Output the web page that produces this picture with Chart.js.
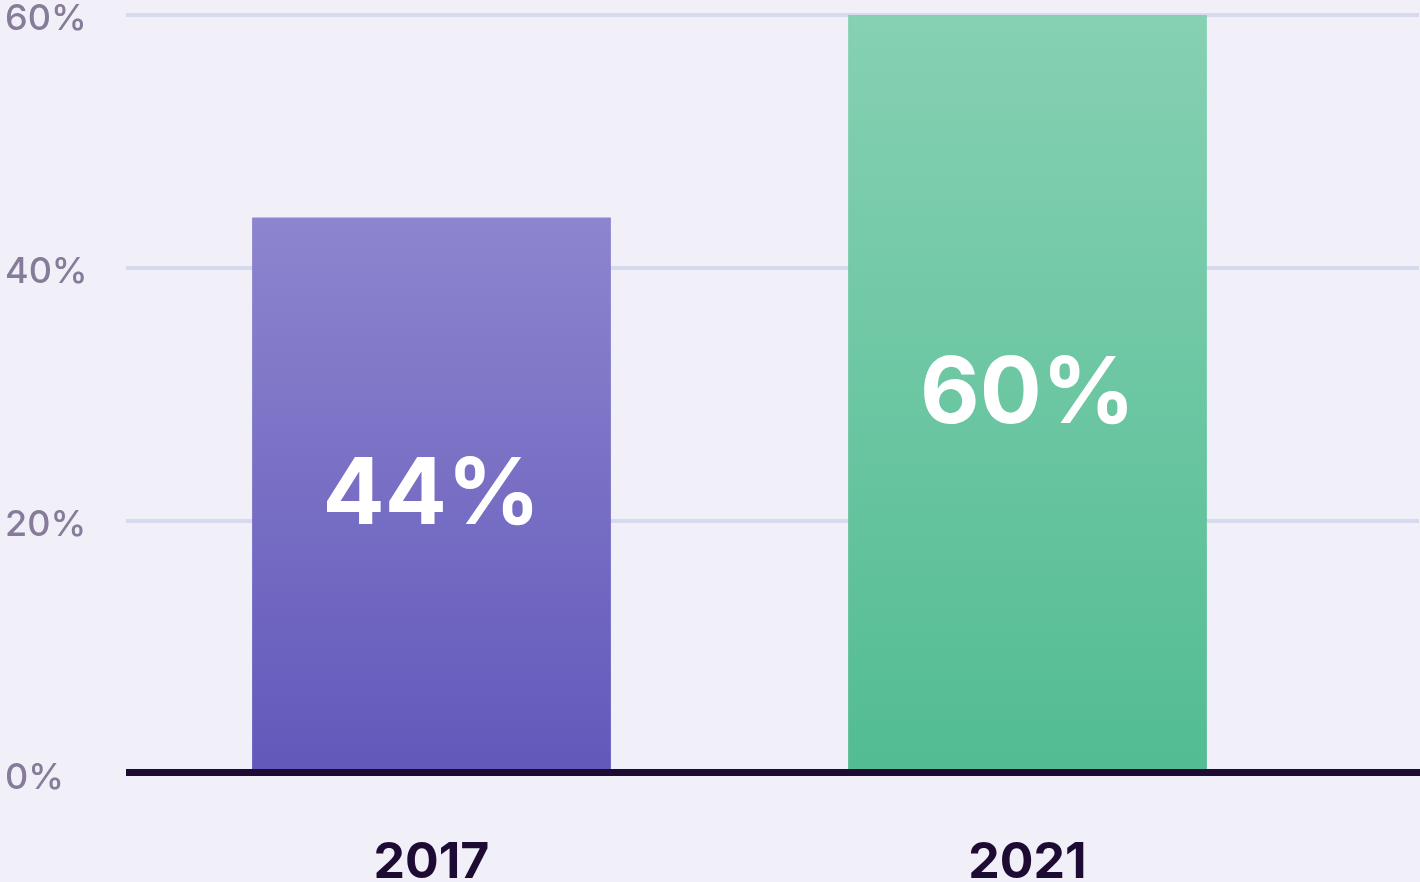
<!DOCTYPE html>
<html>
<head>
<meta charset="utf-8">
<script src="https://cdn.jsdelivr.net/npm/chart.js@4.4.1/dist/chart.umd.min.js"></script>
<style>
  html, body { margin: 0; padding: 0; background: #f1f0f9; }
  #wrap { width: 1420px; height: 882px; position: relative; }
</style>
</head>
<body>
<div id="wrap"><canvas id="c"></canvas></div>
<script>
const categories = ['2017', '2021'];
const values = [44, 60];
const yTicks = [0, 20, 40, 60];
const gradientTops = ['#8d85ce', '#86d1b3'];
const gradientBottoms = ['#6258bb', '#52bc92'];

const gridColor = '#d6daef';
const axisColor = '#1e0b33';
const tickColor = '#867b99';

const barGradient = (ctx) => {
  const chart = ctx.chart;
  const y = chart.scales.y;
  if (!chart.chartArea || !y) return gradientBottoms[ctx.dataIndex];
  const top = y.getPixelForValue(values[ctx.dataIndex]);
  const base = y.getPixelForValue(0);
  const g = chart.ctx.createLinearGradient(0, top, 0, base);
  g.addColorStop(0, gradientTops[ctx.dataIndex]);
  g.addColorStop(1, gradientBottoms[ctx.dataIndex]);
  return g;
};

const gridPlugin = {
  id: 'fullGrid',
  beforeDatasetsDraw(chart) {
    const { ctx, scales: { y }, chartArea } = chart;
    ctx.save();
    ctx.strokeStyle = gridColor;
    ctx.lineWidth = 4;
    yTicks.forEach(v => {
      if (v === 0) return;
      const py = y.getPixelForValue(v);
      ctx.beginPath();
      ctx.moveTo(chartArea.left - 7.5, py);
      ctx.lineTo(chart.width - 1, py);
      ctx.stroke();
    });
    ctx.restore();
  },
  afterDatasetsDraw(chart) {
    const { ctx, scales: { y }, chartArea } = chart;
    ctx.save();
    ctx.strokeStyle = axisColor;
    ctx.lineWidth = 7;
    const py = y.getPixelForValue(0) - 1.5;
    ctx.beginPath();
    ctx.moveTo(chartArea.left - 7.5, py);
    ctx.lineTo(chart.width, py);
    ctx.stroke();

    const meta = chart.getDatasetMeta(0);
    ctx.fillStyle = '#ffffff';
    ctx.font = 'bold 92px Inter';
    ctx.textAlign = 'center';
    ctx.textBaseline = 'middle';
    meta.data.forEach((el, i) => {
      ctx.fillText(values[i] + '%', el.x, (el.y + el.base) / 2 + 1);
    });
    ctx.restore();
  }
};

new Chart(document.getElementById('c'), {
  type: 'bar',
  data: {
    labels: categories,
    datasets: [{
      data: values,
      backgroundColor: barGradient,
      borderWidth: 0,
      barPercentage: 0.602,
      categoryPercentage: 1
    }]
  },
  options: {
    responsive: true,
    maintainAspectRatio: false,
    animation: false,
    layout: { padding: { left: 5, right: 94.5, top: 15, bottom: 0 } },
    plugins: { legend: { display: false }, tooltip: { enabled: false } },
    scales: {
      x: {
        grid: { display: false, drawTicks: false },
        border: { display: false },
        ticks: {
          color: axisColor,
          font: { family: 'Inter', weight: 'bold', size: 50 },
          padding: 59
        },
        afterFit(s) { s.height = 108; }
      },
      y: {
        min: 0, max: 60,
        grid: { display: false, drawTicks: false },
        border: { display: false },
        afterBuildTicks(s) { s.ticks = yTicks.map(v => ({ value: v })); },
        ticks: {
          color: tickColor,
          crossAlign: 'far',
          font: { family: 'Inter', weight: '500', size: 36 },
          callback: v => v + '%'
        },
        afterFit(s) {
          s.width = 128.5; s.paddingTop = 0; s.paddingBottom = 0;
          if (!s._shiftWrapped) {
            const orig = s.drawLabels;
            s.drawLabels = function (area) {
              this.ctx.save();
              this.ctx.translate(0, 4);
              orig.call(this, area);
              this.ctx.restore();
            };
            s._shiftWrapped = true;
          }
        }
      }
    }
  },
  plugins: [gridPlugin]
});
</script>
</body>
</html>
